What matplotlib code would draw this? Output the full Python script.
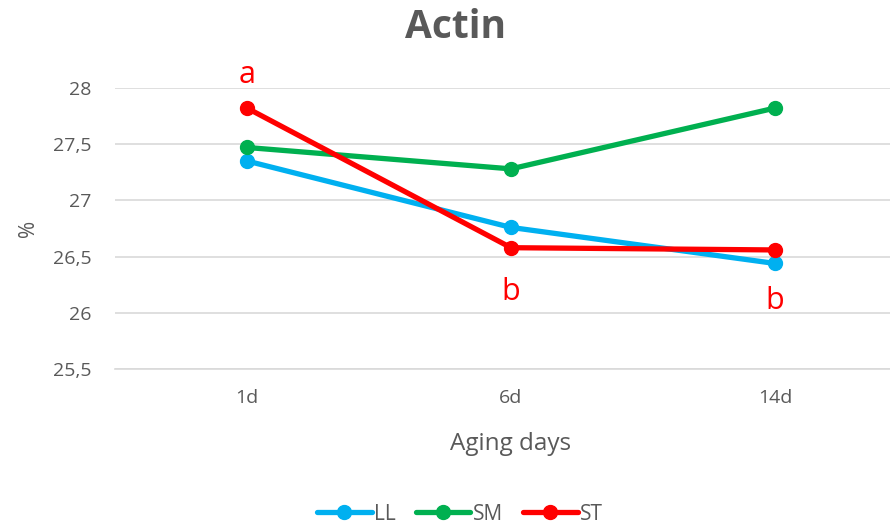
import matplotlib.pyplot as plt

# Actin share by aging day for three muscles
days = ['1d', '6d', '14d']
ll = [27.35, 26.76, 26.44]
sm = [27.47, 27.28, 27.82]
st = [27.82, 26.58, 26.56]
# significance letters for ST
st_letters = ['a', 'b', 'b']
letter_y = [28.11, 26.19, 26.11]

plt.rcParams['font.family'] = ['Open Sans', 'DejaVu Sans']
grey = '#595959'

fig = plt.figure(figsize=(8.9, 5.25), dpi=100)
ax = fig.add_axes([115 / 890, (525 - 369.3) / 525, 792 / 890, 281.5 / 525])

x = range(len(days))
ax.plot(x, ll, color='#00B0F0', lw=3.8, marker='o', ms=10, label='LL', solid_capstyle='round')
ax.plot(x, sm, color='#00B050', lw=3.8, marker='o', ms=10, label='SM', solid_capstyle='round')
ax.plot(x, st, color='#FF0000', lw=3.8, marker='o', ms=10, label='ST', solid_capstyle='round')

for i, (lab, yy) in enumerate(zip(st_letters, letter_y)):
    ax.text(i, yy, lab, color='#FF0000', fontsize=22, ha='center', va='center')

ax.set_xlim(-0.5, 2.5)
ax.set_ylim(25.5, 28)
ax.set_yticks([25.5, 26, 26.5, 27, 27.5, 28])
ax.set_yticklabels(['25,5', '26', '26,5', '27', '27,5', '28'])
ax.set_xticks(list(x))
ax.set_xticklabels(days)
ax.tick_params(length=0, colors=grey, labelsize=14)
ax.tick_params(axis='x', pad=14)
ax.tick_params(axis='y', pad=17)
ax.yaxis.grid(True, color='#D9D9D9', lw=1.2)
ax.set_axisbelow(True)
for s in ax.spines.values():
    s.set_visible(False)
ax.spines['bottom'].set_visible(True)
ax.spines['bottom'].set_color('#D9D9D9')
ax.spines['bottom'].set_linewidth(1.2)

ax.set_xlabel('Aging days', color=grey, fontsize=17.5, labelpad=18)
ax.set_ylabel('%', color=grey, fontsize=15, labelpad=10)

fig.text(456 / 890, 1 - 28 / 525, 'Actin', ha='center', va='center',
         fontsize=28, fontweight='bold', color=grey)

leg = fig.legend(loc='center', bbox_to_anchor=(460 / 890, 1 - 514 / 525), ncol=3,
                 frameon=False, fontsize=15, handlelength=2.6, columnspacing=1.0,
                 handletextpad=0.1, labelcolor=grey)

fig.savefig('out.png', dpi=100)
